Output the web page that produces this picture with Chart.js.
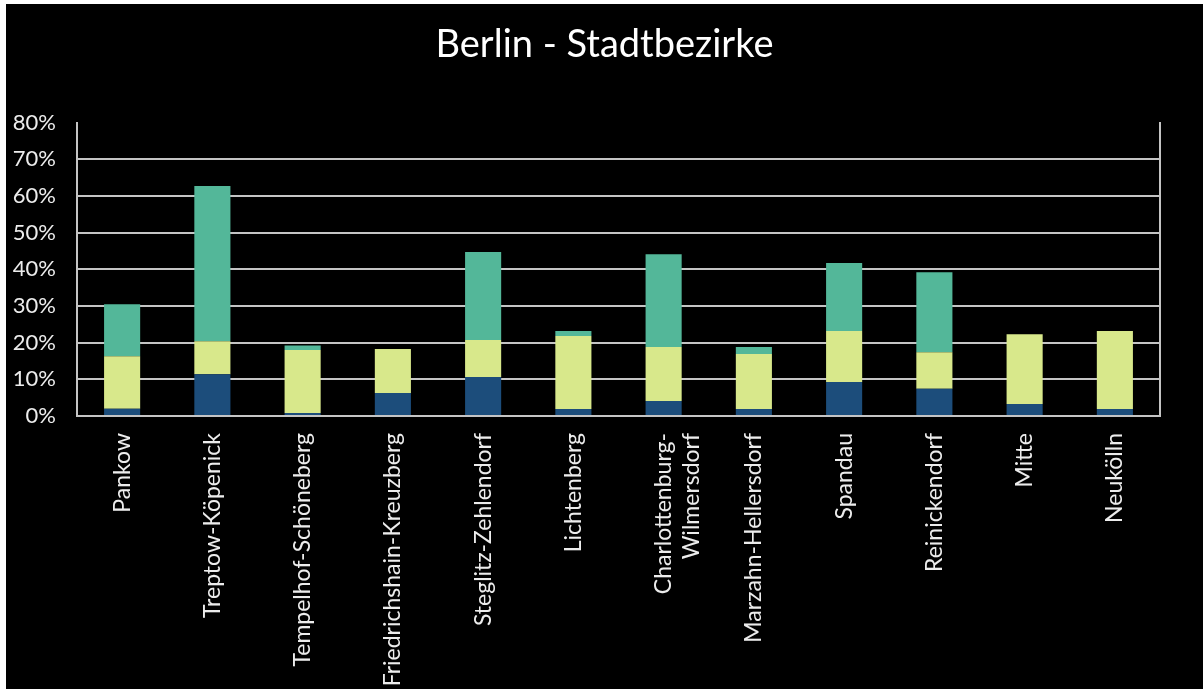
<!DOCTYPE html>
<html>
<head>
<meta charset="utf-8">
<script src="https://cdn.jsdelivr.net/npm/chart.js@4/dist/chart.umd.min.js"></script>
<style>
    html, body { margin: 0; padding: 0; background: #ffffff; }
    #wrap { position: absolute; left: 6px; top: 4px; width: 1197px; height: 685px; background: #000000; }
</style>
</head>
<body>
<div id="wrap"><canvas id="berlinChart"></canvas></div>
<script>
// Bezirke (x axis)
const districts = [
    'Pankow', 'Treptow-Köpenick', 'Tempelhof-Schöneberg', 'Friedrichshain-Kreuzberg',
    'Steglitz-Zehlendorf', 'Lichtenberg', ['Charlottenburg-', 'Wilmersdorf'],
    'Marzahn-Hellersdorf', 'Spandau', 'Reinickendorf', 'Mitte', 'Neukölln'
];

// stacked parts, in percent (bottom -> top)
const partBlue   = [2.0, 11.4, 0.8, 6.3, 10.6, 1.9, 4.1, 1.9, 9.3, 7.4, 3.3, 1.9];
const partYellow = [14.3, 9.0, 17.2, 12.0, 10.1, 19.9, 14.7, 15.0, 13.9, 10.0, 19.0, 21.3];
const partTeal   = [14.2, 42.3, 1.2, 0, 24.0, 1.4, 25.3, 1.9, 18.5, 21.8, 0, 0];

const yTicks = [0, 10, 20, 30, 40, 50, 60, 70, 80];

const lineColor = '#c4c4c4';
const textColor = '#ececec';

document.addEventListener('DOMContentLoaded', function () {
    var ctx = document.getElementById('berlinChart').getContext('2d');
    new Chart(ctx, {
        type: 'bar',
        data: {
            labels: districts,
            datasets: [
                { label: 'A', data: partBlue, backgroundColor: '#1c4d7b' },
                { label: 'B', data: partYellow, backgroundColor: '#d8e88b' },
                { label: 'C', data: partTeal, backgroundColor: '#53b799' }
            ]
        },
        options: {
            responsive: true,
            maintainAspectRatio: false,
            animation: false,
            datasets: { bar: { barPercentage: 0.8, categoryPercentage: 0.5 } },
            layout: { padding: 0 },
            plugins: {
                legend: { display: false },
                tooltip: { enabled: false },
                title: {
                    display: true,
                    text: 'Berlin - Stadtbezirke',
                    color: '#ffffff',
                    font: { family: 'Lato', size: 38, weight: 'normal' },
                    padding: { top: 18, bottom: 55 }
                }
            },
            scales: {
                x: {
                    stacked: true,
                    grid: { display: false, drawTicks: false },
                    border: { display: true, color: lineColor, width: 2 },
                    ticks: {
                        color: textColor,
                        font: { family: 'Lato', size: 23 },
                        maxRotation: 90,
                        minRotation: 90,
                        autoSkip: false,
                        padding: 17
                    },
                    afterFit: function (scale) { scale.height = 273; }
                },
                y: {
                    stacked: true,
                    min: 0,
                    max: 80,
                    afterBuildTicks: function (scale) {
                        scale.ticks = yTicks.map(v => ({ value: v }));
                    },
                    grid: {
                        drawTicks: false,
                        lineWidth: 2,
                        color: c => (c.tick && c.tick.value === 80) ? 'rgba(0,0,0,0)' : lineColor
                    },
                    border: { display: true, color: lineColor, width: 2 },
                    ticks: {
                        color: textColor,
                        font: { family: 'Lato', size: 22 },
                        padding: 21,
                        callback: v => v + '%'
                    },
                    afterFit: function (scale) { scale.width = 71; }
                },
                // right-hand frame line only
                yRight: {
                    position: 'right',
                    min: 0,
                    max: 80,
                    grid: { display: false, drawTicks: false },
                    border: { display: true, color: lineColor, width: 2 },
                    ticks: { display: false },
                    afterFit: function (scale) { scale.width = 43; }
                }
            }
        }
    });
});
</script>
</body>
</html>
